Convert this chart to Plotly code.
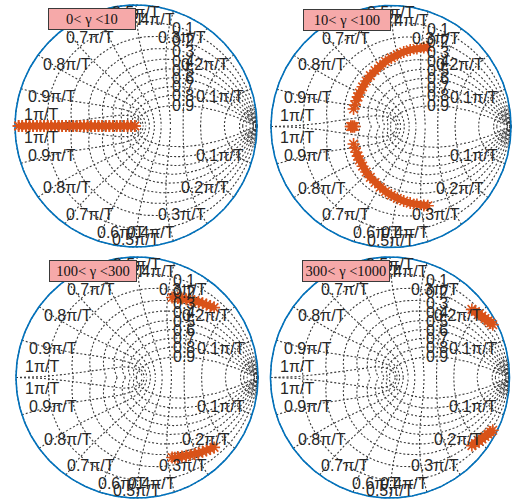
import numpy as np
import plotly.graph_objects as go

W, H = 515, 500

# ---- grid values (z-plane grid) ----
ZETA = [0.0, 0.1, 0.2, 0.3, 0.4, 0.5, 0.6, 0.7, 0.8, 0.9]
ZETA_LABELED = [0.1, 0.2, 0.3, 0.4, 0.5, 0.6, 0.7, 0.8, 0.9]
WN = [0.1, 0.2, 0.3, 0.4, 0.5, 0.6, 0.7, 0.8, 0.9, 1.0]          # in pi/T units
WN_FINE = [0.01, 0.02, 0.03, 0.04, 0.05]
WN_LABELS = ["0.1π/T", "0.2π/T", "0.3π/T", "0.4π/T", "0.5π/T",
             "0.6π/T", "0.7π/T", "0.8π/T", "0.9π/T", "1π/T"]
ZETA_LABELS = ["0.1", "0.2", "0.3", "0.4", "0.5", "0.6", "0.7", "0.8", "0.9"]

PANEL_TEXT = ["0< γ <10", "10< γ <100", "100< γ <300", "300< γ <1000"]

# ---- pole locations (upper half; conjugates mirrored) ----
P1_RE = [-0.97, -0.94, -0.91, -0.88, -0.85, -0.82, -0.79, -0.76, -0.73, -0.70,
         -0.67, -0.64, -0.61, -0.58, -0.55, -0.52, -0.49, -0.46, -0.43, -0.40,
         -0.37, -0.34, -0.31, -0.28, -0.25, -0.22, -0.19, -0.16, -0.13, -0.10,
         -0.07, -0.04, -0.01]
P1_IM = [0.0, 0.0, 0.0, 0.0, 0.0, 0.0, 0.0, 0.0, 0.0, 0.0,
         0.0, 0.0, 0.0, 0.0, 0.0, 0.0, 0.0, 0.0, 0.0, 0.0,
         0.0, 0.0, 0.0, 0.0, 0.0, 0.0, 0.0, 0.0, 0.0, 0.0,
         0.0, 0.0, 0.0]
P1_SP_RE, P1_SP_IM = [], []

P2_RE = [0.307, 0.273, 0.216, 0.160, 0.106, 0.053, 0.003, -0.046, -0.091,
         -0.133, -0.172, -0.207, -0.237, -0.264, -0.277, -0.289]
P2_IM = [0.655, 0.652, 0.645, 0.633, 0.616, 0.594, 0.567, 0.537, 0.502,
         0.463, 0.421, 0.376, 0.328, 0.277, 0.245, 0.213]
P2_SP_RE = [-0.300, -0.312, -0.335, -0.320, -0.305]
P2_SP_IM = [0.178, 0.145, 0.0, 0.0, 0.0]

P3_RE = [0.337, 0.371, 0.406, 0.440, 0.475, 0.508, 0.542, 0.574, 0.606, 0.637]
P3_IM = [0.660, 0.655, 0.650, 0.643, 0.635, 0.626, 0.616, 0.605, 0.593, 0.580]
P3_SP_RE = [0.290, 0.313]
P3_SP_IM = [0.664, 0.665]

P4_RE = [0.685, 0.715, 0.745, 0.770, 0.795, 0.820, 0.842, 0.860]
P4_IM = [0.565, 0.548, 0.528, 0.510, 0.490, 0.470, 0.452, 0.438]
P4_SP_RE, P4_SP_IM = [], []

POLES = [
    (P1_RE, P1_IM, P1_SP_RE, P1_SP_IM, 6),
    (P2_RE, P2_IM, P2_SP_RE, P2_SP_IM, 7),
    (P3_RE, P3_IM, P3_SP_RE, P3_SP_IM, 6),
    (P4_RE, P4_IM, P4_SP_RE, P4_SP_IM, 8),
]

# ---- panel geometry in pixels (center, radius) ----
GEOM = [
    dict(cx=136.0, cy=126.0, rx=121.0, ry=121.0),
    dict(cx=391.0, cy=126.5, rx=120.0, ry=121.0),
    dict(cx=137.0, cy=377.5, rx=121.0, ry=120.5),
    dict(cx=390.0, cy=377.5, rx=119.5, ry=120.5),
]

ORANGE = "#D95319"
BLUE = "#0072BD"
GRIDC = "#383838"
TEXTC = "#262626"

fig = go.Figure()
layout_axes = {}
annotations = []


def grid_xy():
    xs, ys = [], []
    th = np.linspace(0, np.pi, 240)
    for z in ZETA:
        m = z / np.sqrt(1 - z * z)
        zz = np.exp(th * (-m + 1j))
        for c in (zz, np.conj(zz)):
            xs += list(c.real) + [None]
            ys += list(c.imag) + [None]
    zt = np.linspace(0, 1, 160)
    for w in WN + WN_FINE:
        wr = w * np.pi
        zz = np.exp(wr * (-zt + 1j * np.sqrt(1 - zt ** 2)))
        for c in (zz, np.conj(zz)):
            xs += list(c.real) + [None]
            ys += list(c.imag) + [None]
    return xs, ys


GX, GY = grid_xy()
phi = np.linspace(0, 2 * np.pi, 400)

for i, g in enumerate(GEOM):
    k = "" if i == 0 else str(i + 1)
    xa, ya = "x" + k, "y" + k
    pad = 4
    x0 = max(0.0, g["cx"] - g["rx"] - pad)
    x1 = min(W, g["cx"] + g["rx"] + pad)
    yt = max(0.0, g["cy"] - g["ry"] - pad)
    yb = min(H, g["cy"] + g["ry"] + pad)
    layout_axes["xaxis" + k] = dict(
        domain=[x0 / W, x1 / W], range=[(x0 - g["cx"]) / g["rx"], (x1 - g["cx"]) / g["rx"]],
        visible=False, fixedrange=True, anchor=ya)
    layout_axes["yaxis" + k] = dict(
        domain=[1 - yb / H, 1 - yt / H], range=[(g["cy"] - yb) / g["ry"], (g["cy"] - yt) / g["ry"]],
        visible=False, fixedrange=True, anchor=xa)

    fig.add_trace(go.Scatter(x=GX, y=GY, mode="lines", xaxis=xa, yaxis=ya,
                             line=dict(color=GRIDC, width=1.1, dash="2px,2px"),
                             hoverinfo="skip", showlegend=False))
    fig.add_trace(go.Scatter(x=np.cos(phi), y=np.sin(phi), mode="lines", xaxis=xa, yaxis=ya,
                             line=dict(color=BLUE, width=1.6), hoverinfo="skip", showlegend=False))

    re, im, sre, sim, bw = POLES[i]
    for sgn in (1, -1):
        fig.add_trace(go.Scatter(
            x=re, y=[sgn * v for v in im], mode="lines+markers", xaxis=xa, yaxis=ya,
            line=dict(color=ORANGE, width=bw),
            marker=dict(symbol="asterisk-open", size=10, color=ORANGE,
                        line=dict(color=ORANGE, width=1.6)),
            showlegend=False))
        if sre:
            fig.add_trace(go.Scatter(
                x=sre, y=[sgn * v for v in sim], mode="markers", xaxis=xa, yaxis=ya,
                marker=dict(symbol="asterisk-open", size=10, color=ORANGE,
                            line=dict(color=ORANGE, width=1.6)),
                showlegend=False))

    # natural-frequency labels
    lf = dict(family="Liberation Sans, Arial, sans-serif", size=16, color=TEXTC)
    for w, txt in zip(WN, WN_LABELS):
        for sgn in (1, -1):
            if abs(w - 1.0) < 1e-9:
                ax_, ay_ = -0.94, sgn * 0.005
                xanc, yanc = "left", ("bottom" if sgn > 0 else "top")
            else:
                wp = min(w, 1 - w)
                ang = wp * np.pi - np.deg2rad(3)
                r = 0.94
                ax_ = r * np.cos(ang) if w < 0.5 else -r * np.cos(ang)
                ay_ = sgn * r * np.sin(ang)
                xanc = "right" if w < 0.5 - 1e-9 else ("left" if w > 0.5 + 1e-9 else "center")
                if abs(w - 0.5) < 1e-9:
                    ax_ = 0.0
                yanc = "middle"
            annotations.append(dict(x=ax_, y=ay_, xref=xa, yref=ya, text=txt, showarrow=False,
                                    xanchor=xanc, yanchor=yanc, font=lf))
    # damping labels (on each spiral where real part = 0.39)
    th = np.linspace(0, np.pi, 4000)
    for z, txt in zip(ZETA_LABELED, ZETA_LABELS):
        m = z / np.sqrt(1 - z * z)
        zz = np.exp(th * (-m + 1j))
        j = int(np.argmin(np.abs(zz.real - 0.39)))
        annotations.append(dict(x=zz.real[j], y=zz.imag[j], xref=xa, yref=ya, text=txt,
                                showarrow=False, xanchor="center", yanchor="middle", font=lf))

# panel title boxes (drawn last so they sit on top)
for i, g in enumerate(GEOM):
    bx, by = g["cx"] - 44, g["cy"] - 107
    annotations.append(dict(
        x=bx / W, y=1 - by / H, xref="paper", yref="paper", text=PANEL_TEXT[i],
        showarrow=False, xanchor="center", yanchor="middle", width=84, height=18,
        align="center", valign="middle", bgcolor="#F6A9A9", bordercolor="#3a3a3a",
        borderwidth=1, borderpad=1,
        font=dict(family="Liberation Serif, Times New Roman, serif", size=14.5, color="#111111")))

fig.update_layout(width=W, height=H, margin=dict(l=0, r=0, t=0, b=0),
                  paper_bgcolor="white", plot_bgcolor="white",
                  annotations=annotations, showlegend=False, **layout_axes)

fig.write_html("out.html")
